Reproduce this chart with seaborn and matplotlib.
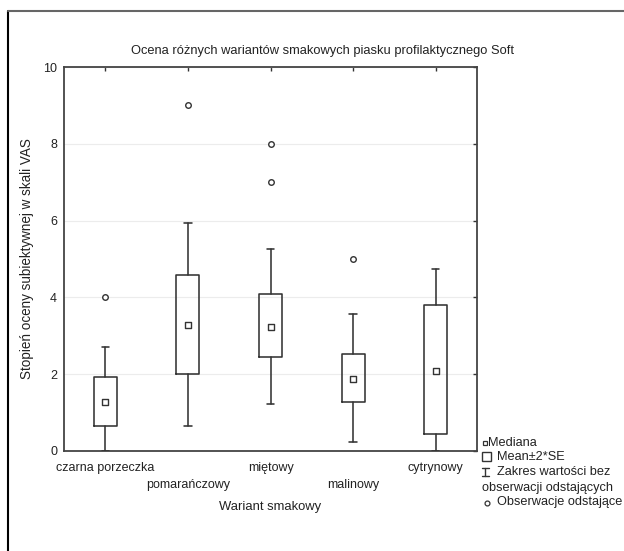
import numpy as np
import pandas as pd
import matplotlib
matplotlib.use('Agg')
import matplotlib.pyplot as plt
from matplotlib.lines import Line2D
from matplotlib.patches import Rectangle
import seaborn as sns

sns.set_style('white')
plt.rcParams['font.family'] = ['Liberation Sans', 'DejaVu Sans']
plt.rcParams['font.size'] = 9

# dane (Statistica: mediana, srednia +-2SE, zakres bez odstajacych)
warianty = ['czarna porzeczka', 'pomarańczowy', 'miętowy', 'malinowy', 'cytrynowy']
mediana = [1.28, 3.28, 3.24, 1.88, 2.09]
srednia_minus_2se = [0.65, 2.00, 2.44, 1.28, 0.43]
srednia_plus_2se = [1.92, 4.58, 4.09, 2.52, 3.79]
min_bez_odst = [0.0, 0.65, 1.22, 0.24, 0.0]
max_bez_odst = [2.72, 5.95, 5.27, 3.56, 4.73]
odst_wariant = ['czarna porzeczka', 'pomarańczowy', 'miętowy', 'miętowy', 'malinowy']
odst_wartosc = [4, 9, 8, 7, 5]

poz = list(range(len(warianty)))
df_med = pd.DataFrame({'poz': poz, 'mediana': mediana})
df_odst = pd.DataFrame({'poz': [warianty.index(w) for w in odst_wariant],
                        'wartosc': odst_wartosc})

kolor = '#333333'
tekst = '#222222'
fig = plt.figure(figsize=(6.24, 5.51), dpi=100)
ax = fig.add_axes([0.1026, 0.1815, 0.6619, 0.6969])

stats = [dict(med=m, q1=lo, q3=hi, whislo=wl, whishi=wh, fliers=[])
         for m, lo, hi, wl, wh in zip(mediana, srednia_minus_2se, srednia_plus_2se,
                                      min_bez_odst, max_bez_odst)]
linia = dict(color=kolor, linewidth=1.15)
ax.bxp(stats, positions=poz, widths=0.28, capwidths=0.09, showfliers=False,
       boxprops=linia, whiskerprops=linia, capprops=linia,
       medianprops=dict(linewidth=0), manage_ticks=False, zorder=3)

sns.scatterplot(data=df_med, x='poz', y='mediana', marker='s', s=16, color='white',
                edgecolor=kolor, linewidth=1, ax=ax, zorder=4, legend=False)
sns.scatterplot(data=df_odst, x='poz', y='wartosc', marker='o', s=16, color='white',
                edgecolor=kolor, linewidth=1, ax=ax, zorder=4, legend=False)

ax.set_xlim(-0.5, 4.5)
ax.set_ylim(0, 10)
ax.set_yticks([0, 2, 4, 6, 8, 10])
ax.set_xticks(poz)
ax.set_xticklabels(warianty)
ax.grid(axis='y', color='#ececec', linewidth=0.8)
ax.set_axisbelow(True)
ax.tick_params(direction='in', length=3, width=1, top=True, right=True,
               colors=kolor, labelcolor=tekst)
ax.tick_params(axis='y', pad=5)
for i, t in enumerate(ax.xaxis.get_major_ticks()):
    t.set_pad(8 if i % 2 == 0 else 20.5)
for s in ax.spines.values():
    s.set_color('#444444')
    s.set_linewidth(1.3)

ax.set_xlabel('Wariant smakowy', labelpad=7, color=tekst, fontsize=9.4)
ax.set_ylabel('Stopień oceny subiektywnej w skali VAS', color=tekst, fontsize=9.75)
ax.yaxis.set_label_coords(-0.073, 0.5)
fig.text(0.517, 0.908, 'Ocena różnych wariantów smakowych piasku profilaktycznego Soft',
         ha='center', va='center', color=tekst, fontsize=9.25)

# ramka
fx = lambda x: x / 624
fy = lambda y: 1 - y / 551
tf = fig.transFigure
fig.add_artist(Line2D([fx(8), fx(8)], [0, fy(11)], color='black', lw=1.5, transform=tf))
fig.add_artist(Line2D([fx(8), 1], [fy(11), fy(11)], color='#666666', lw=1.5, transform=tf))

# legenda
leg_fs = 9.2
fig.add_artist(Line2D([fx(485)], [fy(443)], marker='s', ms=3.2, mfc='white', mec=kolor,
                      mew=0.9, transform=tf))
fig.text(fx(488), fy(443), 'Mediana', ha='left', va='center', color=tekst, fontsize=leg_fs)
fig.add_artist(Rectangle((fx(482.3), fy(460.7)), 8.4 / 624, 9 / 551, fill=False,
                         ec=kolor, lw=1, transform=tf))
fig.text(fx(497), fy(456.5), 'Mean±2*SE', ha='left', va='center', color=tekst, fontsize=leg_fs)
fig.add_artist(Line2D([fx(485), fx(485)], [fy(468), fy(476)], color=kolor, lw=1, transform=tf))
fig.add_artist(Line2D([fx(481.5), fx(488.5)], [fy(468), fy(468)], color=kolor, lw=1, transform=tf))
fig.add_artist(Line2D([fx(481.5), fx(488.5)], [fy(476), fy(476)], color=kolor, lw=1, transform=tf))
fig.text(fx(497), fy(472), 'Zakres wartości bez', ha='left', va='center', color=tekst,
         fontsize=leg_fs)
fig.text(fx(482.3), fy(488), 'obserwacji odstających', ha='left', va='center', color=tekst,
         fontsize=leg_fs)
fig.add_artist(Line2D([fx(486.7)], [fy(502.7)], marker='o', ms=3.5, mfc='white', mec=kolor,
                      mew=0.9, transform=tf))
fig.text(fx(497), fy(502.5), 'Obserwacje odstające', ha='left', va='center', color=tekst,
         fontsize=leg_fs)

fig.savefig('out.png', dpi=100)
